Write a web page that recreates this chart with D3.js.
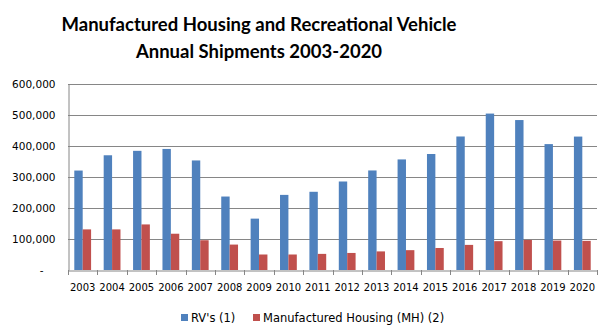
<!DOCTYPE html>
<html><head><meta charset="utf-8">
<script src="https://cdn.jsdelivr.net/npm/d3@7"></script>
<style>body{margin:0;background:#fff}svg{display:block}</style>
</head><body><svg id="c" width="608" height="333"></svg>
<script>
const years = ["2003","2004","2005","2006","2007","2008","2009","2010","2011","2012","2013","2014","2015","2016","2017","2018","2019","2020"];
const rv = [320800,370100,384400,390500,353400,237000,165700,242300,252300,285500,321100,356700,374200,430700,504600,483700,406100,430400];
const mh = [131000,131000,147000,117000,96000,82000,50000,50000,52000,55000,60000,64000,71000,81000,93000,97000,95000,94000];
const yTicks = [0,100000,200000,300000,400000,500000,600000];
const seriesNames = ["RV's (1)","Manufactured Housing (MH) (2)"];
const colors = ["#4F81BD","#C0504D"];

const svg = d3.select("#c");
const L=68,R=597,T=84,B=270;
const x = d3.scaleBand().domain(years).range([L,R]).paddingInner(0).paddingOuter(0);
const y = d3.scaleLinear().domain([0,600000]).range([B,T]);
const fmt = d3.format(",");

// gridlines
svg.append("g").selectAll("line").data(yTicks.filter(d=>d>0)).join("line")
  .attr("x1",L).attr("x2",R).attr("y1",d=>Math.round(y(d))+0.5).attr("y2",d=>Math.round(y(d))+0.5)
  .attr("stroke","#868686").attr("stroke-width",1);

// bars
const bw = x.bandwidth()/3.5;
const series=[rv,mh];
series.forEach((vals,si)=>{
  svg.append("g").selectAll("rect").data(vals).join("rect")
    .attr("x",(d,i)=>x(years[i])+bw*0.75+si*bw)
    .attr("width",bw)
    .attr("y",d=>y(d))
    .attr("height",d=>B-y(d))
    .attr("fill",colors[si]);
});

// y axis
const ya = svg.append("g").attr("transform",`translate(${L+0.5},0)`)
  .call(d3.axisLeft(y).tickValues(yTicks).tickSize(0).tickPadding(13).tickFormat(d=>d===0?"-":fmt(d)));
ya.select(".domain").attr("stroke","#868686");
ya.selectAll("text").attr("font-family","DejaVu Sans").attr("font-size","10.5px").attr("fill","#000");
ya.selectAll(".tick").filter(d=>d===0).select("text").attr("dx","-12");

// x axis
const xa = svg.append("g").attr("transform",`translate(0,${B+0.5})`)
  .call(d3.axisBottom(x).tickSize(0).tickPadding(13));
xa.select(".domain").attr("stroke","#868686");
xa.selectAll("text").attr("font-family","DejaVu Sans").attr("font-size","10px").attr("fill","#000");
// tick marks at band boundaries
svg.append("g").selectAll("line").data(years.concat(["end"])).join("line")
  .attr("x1",(d,i)=>Math.round(L+i*x.step())+0.5).attr("x2",(d,i)=>Math.round(L+i*x.step())+0.5)
  .attr("y1",B).attr("y2",B+5).attr("stroke","#868686");

// title
svg.append("text").attr("x",259).attr("y",31).attr("text-anchor","middle")
  .attr("font-family","Lato").attr("font-weight","bold").attr("font-size","18.5px")
  .text("Manufactured Housing and Recreational Vehicle");
svg.append("text").attr("x",259).attr("y",58).attr("text-anchor","middle")
  .attr("font-family","Lato").attr("font-weight","bold").attr("font-size","18.5px")
  .text("Annual Shipments 2003-2020");

// legend
const lg = svg.append("g");
const lx=[181,253];
seriesNames.forEach((n,i)=>{
  lg.append("rect").attr("x",lx[i]).attr("y",314).attr("width",7).attr("height",7).attr("fill",colors[i]);
  lg.append("text").attr("x",lx[i]+10).attr("y",322).attr("font-family","DejaVu Sans").attr("font-size","11.5px").text(n);
});
</script></body></html>
